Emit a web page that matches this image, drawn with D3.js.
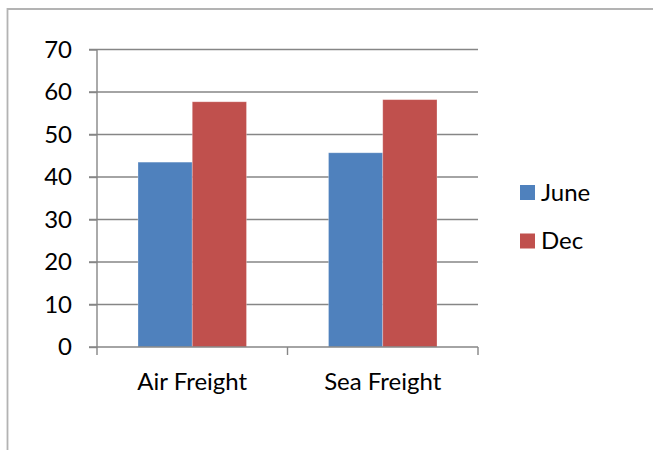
<!DOCTYPE html>
<html><head><meta charset="utf-8">
<script src="https://cdn.jsdelivr.net/npm/d3@7"></script>
<style>body{margin:0;background:#fff}svg{display:block}text{font-family:Lato,"Open Sans",sans-serif;fill:#000}</style>
</head><body><svg id="c" width="653" height="450"></svg>
<script>
const categories = ["Air Freight", "Sea Freight"];
const seriesNames = ["June", "Dec"];
const june = [43.5, 45.7];
const dec = [57.7, 58.2];
const yTicks = [0, 10, 20, 30, 40, 50, 60, 70];
const colors = ["#4F81BD", "#C0504D"];

const svg = d3.select("#c");
const FS = 24;
// outer border
svg.append("path").attr("d","M7.5,450 V9 H653").attr("fill","none").attr("stroke","#b3b3b3").attr("stroke-width",1.8);

const x0 = d3.scaleBand().domain(categories).range([97, 478]).padding(0);
const gap = 41;
const x1 = d3.scaleBand().domain(seriesNames).range([gap, x0.bandwidth() - gap]).padding(0);
const y = d3.scaleLinear().domain([0, 70]).range([347, 49.5]);

const grid = "#868686";
// gridlines
svg.append("g").selectAll("line").data(yTicks.filter(d=>d>0)).join("line")
  .attr("x1", 89).attr("x2", 478).attr("y1", d=>y(d)).attr("y2", d=>y(d))
  .attr("stroke", grid).attr("stroke-width", 1.4);

// bars
const data = categories.map((c,i)=>({c, vals:[june[i], dec[i]]}));
const g = svg.append("g");
data.forEach(d=>{
  d.vals.forEach((v,j)=>{
    g.append("rect").attr("x", x0(d.c)+x1(seriesNames[j])).attr("width", x1.bandwidth())
     .attr("y", y(v)).attr("height", y(0)-y(v)).attr("fill", colors[j])
     .attr("stroke","rgba(255,255,255,0.35)").attr("stroke-width",0.8);
  });
});

// y axis
const yAxis = d3.axisLeft(y).tickValues(yTicks).tickSize(8).tickPadding(17);
const ya = svg.append("g").attr("transform","translate(97,0)").call(yAxis);
ya.select(".domain").attr("stroke", grid).attr("stroke-width",1.4).attr("d","M0,"+y(70)+"V"+y(0));
ya.selectAll(".tick line").attr("stroke", grid).attr("stroke-width",1.4);
ya.selectAll(".tick text").style("font-family","Lato,'Open Sans',sans-serif").attr("font-size",FS).attr("fill","#000");

// x axis
const xa = svg.append("g").attr("transform","translate(0,"+y(0)+")");
xa.append("line").attr("x1",89).attr("x2",478).attr("stroke",grid).attr("stroke-width",1.4);
const bounds = [97, 97 + x0.bandwidth(), 478];
xa.selectAll("line.t").data(bounds).join("line").attr("class","t")
  .attr("x1",d=>d).attr("x2",d=>d).attr("y1",0).attr("y2",8).attr("stroke",grid).attr("stroke-width",1.4);
xa.selectAll("text").data(categories).join("text")
  .attr("x", d=>x0(d)+x0.bandwidth()/2).attr("y", 43).attr("text-anchor","middle")
  .attr("font-size",FS).text(d=>d);

// legend
const lg = svg.append("g");
seriesNames.forEach((s,i)=>{
  const yy = 185 + i*48.5;
  lg.append("rect").attr("x",520).attr("y",yy).attr("width",15).attr("height",15).attr("fill",colors[i]);
  lg.append("text").attr("x",541).attr("y",yy+15.5).attr("font-size",FS).text(s);
});
</script></body></html>
